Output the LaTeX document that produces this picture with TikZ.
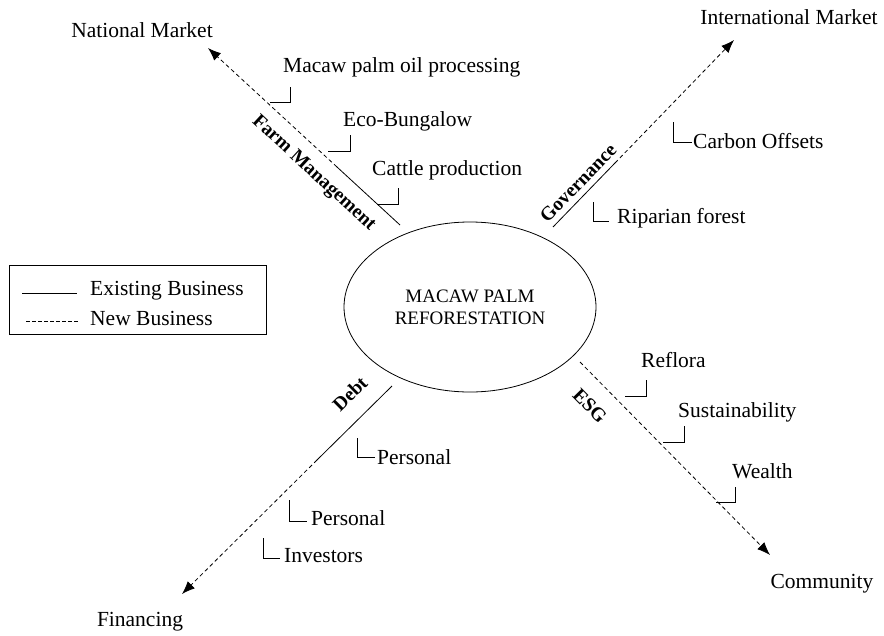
\documentclass[tikz,border=0pt]{standalone}
\usepackage{fontspec}
\setmainfont{Liberation Serif}
\usetikzlibrary{shapes.geometric,arrows.meta}
\tikzset{
  txt/.style={font=\fontsize{21.5}{24}\selectfont, inner sep=0pt, text height=14pt, text depth=4pt},
  lbl/.style={font=\bfseries\fontsize{19.5}{22}\selectfont, inner sep=0pt, text height=13pt, text depth=0pt},
  solidln/.style={line width=0.8pt},
  dashln/.style={line width=0.8pt, dash pattern=on 4pt off 3pt},
  arr/.style={-{Latex[length=13pt,width=10pt]}},
  brk/.style={line width=0.8pt},
  hub/.style={ellipse, draw, line width=0.8pt, minimum width=252pt, minimum height=170pt, inner sep=0pt,
    align=center, font=\fontsize{19}{22}\selectfont},
  legendbox/.style={draw, line width=0.8pt, minimum width=257pt, minimum height=69pt, inner sep=0pt, anchor=north west}
}
\begin{document}
\begin{tikzpicture}[x=1pt,y=-1pt]
\useasboundingbox (0,0) rectangle (884,635);

% hub
\node[hub] (hub) at (470,307) {MACAW PALM\\REFORESTATION};

% coordinates of the axes
\coordinate (nws) at (400,225); \coordinate (nwm) at (337,167); \coordinate (nwt) at (208,48);
\coordinate (nes) at (553,227); \coordinate (nem) at (615,163); \coordinate (net) at (734,40);
\coordinate (sws) at (392,386); \coordinate (swm) at (317,460); \coordinate (swt) at (182,594);
\coordinate (ses) at (580,362); \coordinate (set) at (770,555);

\draw[solidln] (nws) -- (nwm);
\draw[dashln,arr] (nwm) -- (nwt);
\draw[solidln] (nes) -- (nem);
\draw[dashln,arr] (nem) -- (net);
\draw[solidln] (sws) -- (swm);
\draw[dashln,arr] (swm) -- (swt);
\draw[dashln,arr] (ses) -- (set);

% end labels
\node[txt] (natm) at (142,32) {National Market};
\node[txt] (intm) at (789,19) {International Market};
\node[txt] (fin) at (140,621) {Financing};
\node[txt] (com) at (822,583) {Community};

% axis labels
\node[lbl, rotate=-42.7] (farm) at (315,172) {Farm Management};
\node[lbl, rotate=45.9] (gov) at (578,183) {Governance};
\node[lbl, rotate=44.7] (debt) at (350,394) {Debt};
\node[lbl, rotate=-45.4] (esg) at (590,406) {ESG};

% item labels
\node[txt, anchor=west] (mac) at (283,67) {Macaw palm oil processing};
\node[txt, anchor=west] (eco) at (343,121) {Eco-Bungalow};
\node[txt, anchor=west] (cat) at (372,170) {Cattle production};
\node[txt, anchor=west] (carb) at (693,143) {Carbon Offsets};
\node[txt, anchor=west] (rip) at (617,218) {Riparian forest};
\node[txt, anchor=west] (pers1) at (377,459) {Personal};
\node[txt, anchor=west] (pers2) at (311,520) {Personal};
\node[txt, anchor=west] (inv) at (284,557) {Investors};
\node[txt, anchor=west] (ref) at (641,362) {Reflora};
\node[txt, anchor=west] (sus) at (678,412) {Sustainability};
\node[txt, anchor=west] (wea) at (732,473) {Wealth};

% brackets
\draw[brk] (270,102) -- (290,102) -- (290,87);
\draw[brk] (328,151) -- (350,151) -- (350,135);
\draw[brk] (377,204) -- (398,204) -- (398,188);
\draw[brk] (673,122) -- (673,142) -- (692,142);
\draw[brk] (593,202) -- (593,221) -- (609,221);
\draw[brk] (357,438) -- (357,457) -- (375,457);
\draw[brk] (289,500) -- (289,521) -- (307,521);
\draw[brk] (263,538) -- (263,558) -- (280,558);
\draw[brk] (625,396) -- (646,396) -- (646,380);
\draw[brk] (663,442) -- (684,442) -- (684,426);
\draw[brk] (716,502) -- (735,502) -- (735,487);

% legend
\node[legendbox] (legend) at (9,265) {};
\coordinate (l1a) at (22,293); \coordinate (l1b) at (77,293);
\coordinate (l2a) at (26,321); \coordinate (l2b) at (79,321);
\draw[solidln] (l1a) -- (l1b);
\draw[line width=0.8pt, dash pattern=on 3.5pt off 2.5pt] (l2a) -- (l2b);
\node[txt, anchor=west] (exist) at (90,290) {Existing Business};
\node[txt, anchor=west] (newb) at (90,320) {New Business};
\end{tikzpicture}
\end{document}
